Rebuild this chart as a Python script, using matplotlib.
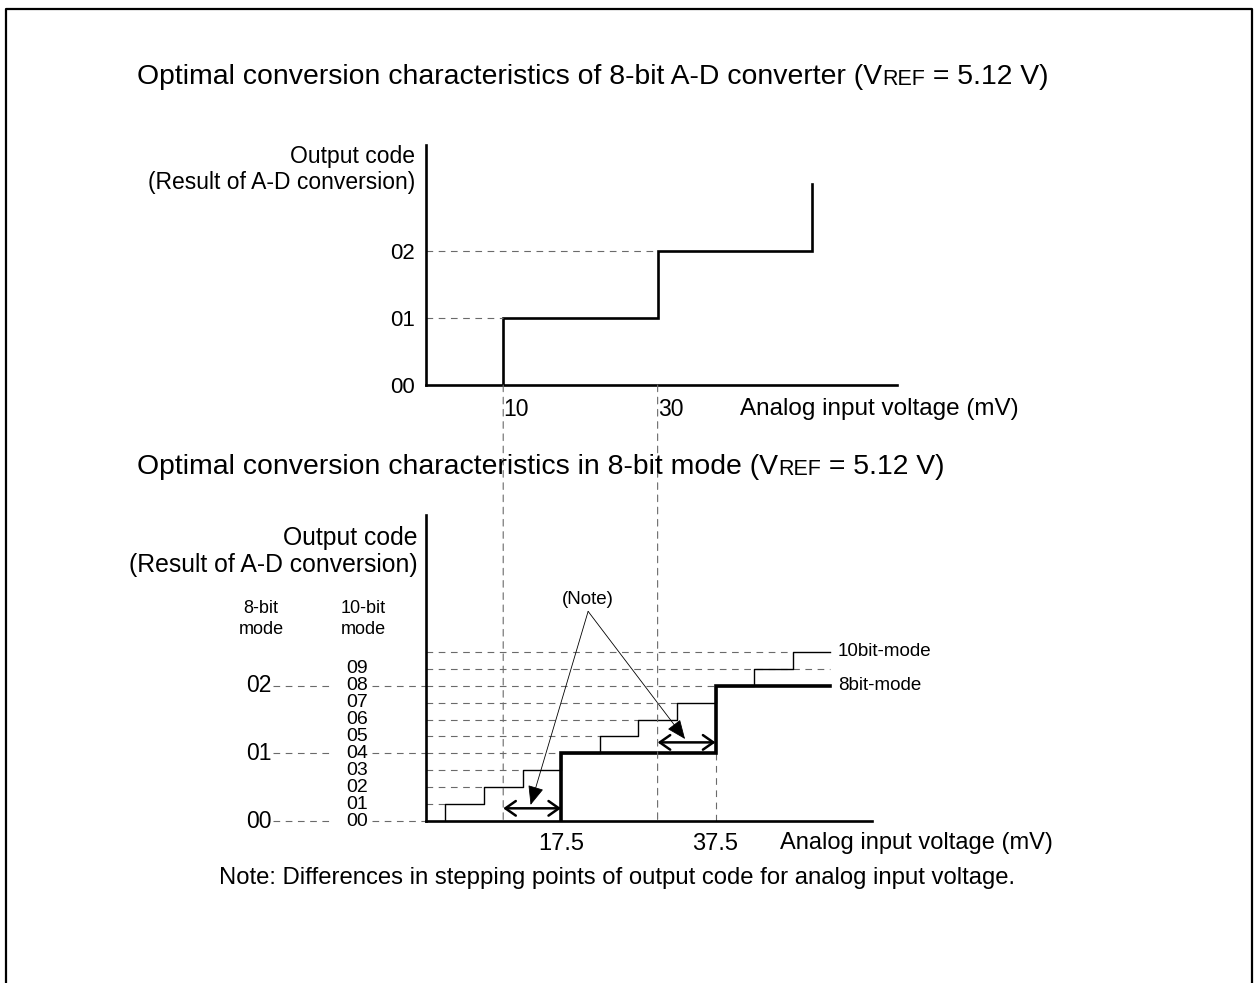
import matplotlib
matplotlib.use('Agg')
import matplotlib.pyplot as plt
from matplotlib.lines import Line2D
from matplotlib.patches import ConnectionPatch
from matplotlib.text import Annotation

plt.rcParams['font.family'] = ['Liberation Sans', 'DejaVu Sans']

W, H = 1259, 983

# upper chart: ideal 8-bit A-D converter (1 LSB = 20 mV)
top_steps_mv = [10, 30, 50]
top_codes = [0, 1, 2, 3]
top_code_labels = ['00', '01', '02']
top_ticks_mv = [10, 30]

# lower chart: 10-bit converter running in 8-bit mode (codes in 10-bit units)
tenbit_steps_mv = [2.5, 7.5, 12.5, 17.5, 22.5, 27.5, 32.5, 37.5, 42.5, 47.5]
tenbit_codes = list(range(11))
tenbit_labels = ['00', '01', '02', '03', '04', '05', '06', '07', '08', '09']
eightbit_steps_mv = [17.5, 37.5]
eightbit_codes = [0, 4, 8]
eightbit_labels = ['00', '01', '02']
bottom_ticks_mv = [17.5, 37.5]
line_end_mv = 52.3
note_arrows = [(10, 17.5, 0.75), (30, 37.5, 4.65)]  # (from mV, to mV, code level)

DASH = dict(color='#6a6a6a', lw=0.8, ls=(0, (6, 5)))


def add_axes_px(left, top, right, bottom):
    return fig.add_axes([left / W, 1 - bottom / H, (right - left) / W, (bottom - top) / H])


def stairs(steps, codes, end=None):
    xs, ys = [], []
    for i, s in enumerate(steps):
        xs += [s, s]
        ys += [codes[i], codes[i + 1]]
    if end is not None:
        xs.append(end)
        ys.append(codes[-1])
    return xs, ys


def style_axes(ax):
    for side in ['top', 'right']:
        ax.spines[side].set_visible(False)
    for side in ['left', 'bottom']:
        ax.spines[side].set_linewidth(1.9)
    ax.tick_params(length=0)
    ax.patch.set_alpha(0)


fig = plt.figure(figsize=(W / 100, H / 100), dpi=100)

# frame around the drawing (open at the bottom)
fx = [6 / W, 6 / W, 1252 / W, 1252 / W]
fy = [0, 1 - 9 / H, 1 - 9 / H, 0]
fig.add_artist(Line2D(fx, fy, transform=fig.transFigure, color='black', lw=1.6))

# ---------------- upper chart ----------------
ax1 = add_axes_px(426, 145, 897, 385)
ax1.set_xlim(0, 61.0)
ax1.set_ylim(0, 3.58)
style_axes(ax1)

xs, ys = stairs(top_steps_mv, top_codes)
ax1.plot(xs, ys, color='black', lw=1.9, solid_joinstyle='miter')
for c in top_codes[1:3]:
    ax1.plot([0, top_steps_mv[c - 1]], [c, c], **DASH)

ax1.set_yticks(range(len(top_code_labels)))
ax1.set_yticklabels(top_code_labels, fontsize=16)
ax1.tick_params(axis='y', pad=8)
ax1.set_xticks(top_ticks_mv)
ax1.set_xticklabels([str(v) for v in top_ticks_mv], fontsize=16.5, ha='left')
ax1.tick_params(axis='x', pad=9)

ax1.text(-0.0234, 0.95, 'Output code', transform=ax1.transAxes, ha='right', va='center', fontsize=16.5)
ax1.text(-0.0234, 0.842, '(Result of A-D conversion)', transform=ax1.transAxes,
         ha='right', va='center', fontsize=16.5)
ax1.text(0.667, -0.10, 'Analog input voltage (mV)', transform=ax1.transAxes,
         ha='left', va='center', fontsize=17.5)

# ---------------- lower chart ----------------
ax2 = add_axes_px(426, 515, 872, 821)
ax2.set_xlim(0, 57.77)
ax2.set_ylim(0, 18.1)
style_axes(ax2)

# dashed guides for each 10-bit code
for c in tenbit_codes[1:]:
    xe = line_end_mv if c == 9 else tenbit_steps_mv[c - 1]
    ax2.plot([0, xe], [c, c], **DASH)
ax2.plot([eightbit_steps_mv[1]] * 2, [0, eightbit_codes[1]], **DASH)

xs, ys = stairs(tenbit_steps_mv, tenbit_codes, line_end_mv)
ax2.plot(xs, ys, color='black', lw=1.0)
xs, ys = stairs(eightbit_steps_mv, eightbit_codes, line_end_mv)
ax2.plot(xs, ys, color='black', lw=2.6, solid_joinstyle='miter')

ax2.annotate('10bit-mode', xy=(line_end_mv, tenbit_codes[-1]), xytext=(6, 0),
             textcoords='offset points', va='center', fontsize=13.5)
ax2.annotate('8bit-mode', xy=(line_end_mv, eightbit_codes[-1]), xytext=(6, 0),
             textcoords='offset points', va='center', fontsize=13.5)

ax2.set_yticks([])
ax2.set_xticks(bottom_ticks_mv)
ax2.set_xticklabels([str(v) for v in bottom_ticks_mv], fontsize=17)
ax2.tick_params(axis='x', pad=9)

yax = ax2.get_yaxis_transform()
for c, lab in zip(tenbit_codes, tenbit_labels):
    ax2.text(-0.1547, c, lab, transform=yax, ha='center', va='center', fontsize=14)
for c, lab in zip(eightbit_codes, eightbit_labels):
    ax2.text(-0.347, c, lab, transform=yax, ha='right', va='center', fontsize=16.5)
    ax2.plot([-0.343, -0.2085], [c, c], transform=yax, clip_on=False, **DASH)
    ax2.plot([-0.121, 0], [c, c], transform=yax, clip_on=False, **DASH)

ax2.text(-0.37, 0.693, '8-bit', transform=ax2.transAxes, ha='center', va='center', fontsize=13)
ax2.text(-0.37, 0.627, 'mode', transform=ax2.transAxes, ha='center', va='center', fontsize=13)
ax2.text(-0.141, 0.693, '10-bit', transform=ax2.transAxes, ha='center', va='center', fontsize=13)
ax2.text(-0.141, 0.627, 'mode', transform=ax2.transAxes, ha='center', va='center', fontsize=13)

ax2.text(-0.018, 0.925, 'Output code', transform=ax2.transAxes, ha='right', va='center', fontsize=17.8)
ax2.text(-0.018, 0.837, '(Result of A-D conversion)', transform=ax2.transAxes,
         ha='right', va='center', fontsize=17.8)
ax2.text(0.794, -0.072, 'Analog input voltage (mV)', transform=ax2.transAxes,
         ha='left', va='center', fontsize=17)

# double arrows marking the shifted stepping points
for x0, x1, lvl in note_arrows:
    ax2.annotate('', xy=(x1, lvl), xytext=(x0, lvl),
                 arrowprops=dict(arrowstyle='<->,head_length=0.5,head_width=0.35',
                                 lw=1.8, color='black', mutation_scale=15,
                                 shrinkA=0, shrinkB=0))

note_xy = (21.0, 13.1)
ax2.text(note_xy[0], note_xy[1], '(Note)', ha='center', va='center', fontsize=13.5)
for x0, x1, lvl in note_arrows:
    ax2.annotate('', xy=((x0 + x1) / 2 - 0.2, lvl + 0.2), xytext=(note_xy[0], note_xy[1] - 0.7),
                 arrowprops=dict(arrowstyle='-|>,head_length=0.6,head_width=0.25',
                                 lw=0.6, color='black', mutation_scale=20,
                                 shrinkA=0, shrinkB=0))

# dashed verticals tying the two charts together
for v in top_ticks_mv:
    con = ConnectionPatch(xyA=(v, 0), coordsA='data', axesA=ax1,
                          xyB=(v, 0), coordsB='data', axesB=ax2,
                          color='#6a6a6a', lw=0.8, ls=(0, (6, 5)))
    fig.add_artist(con)


# titles: "VREF" with REF set in small capitals
def title_line(y_px, head):
    t = fig.text(137 / W, 1 - y_px / H, head, fontsize=20.4, va='center', ha='left')
    a = fig.add_artist(Annotation('REF', xy=(1, 0), xycoords=t,
                                  va='bottom', ha='left', fontsize=15.5))
    fig.add_artist(Annotation(' = 5.12 V)', xy=(1, 0), xycoords=a,
                              va='bottom', ha='left', fontsize=20.4))


title_line(77, 'Optimal conversion characteristics of 8-bit A-D converter (V')
title_line(467, 'Optimal conversion characteristics in 8-bit mode (V')

fig.text(617 / W, 1 - 878 / H,
         'Note: Differences in stepping points of output code for analog input voltage.',
         ha='center', va='center', fontsize=17.2)

fig.savefig('out.png', dpi=100, facecolor='white')
